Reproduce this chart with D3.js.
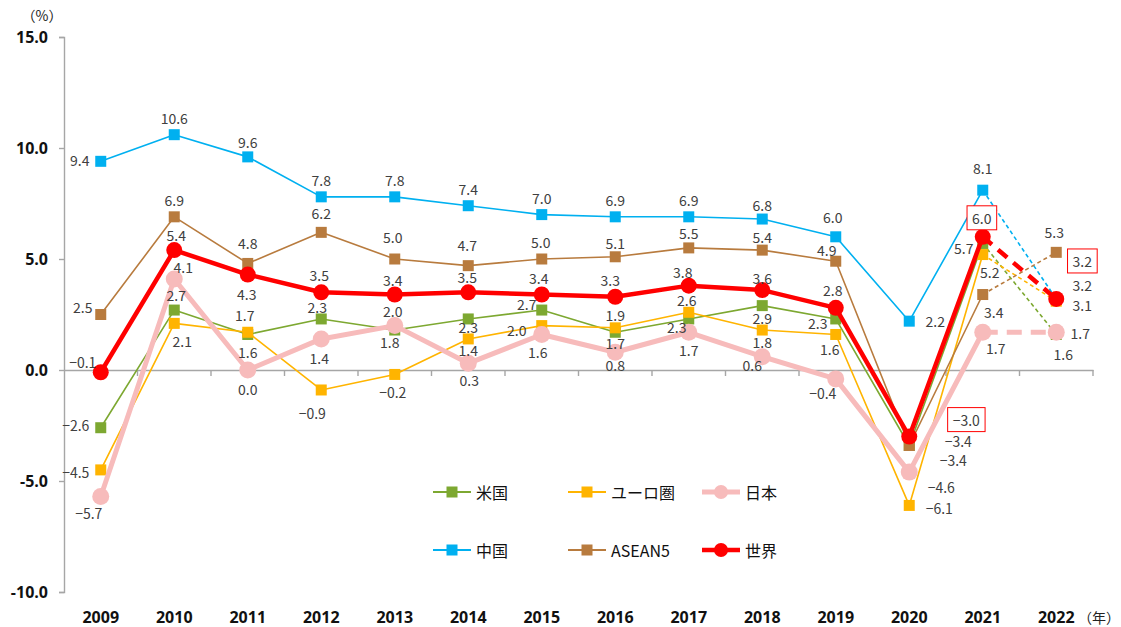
<!DOCTYPE html>
<html><head><meta charset="utf-8">
<script src="https://cdn.jsdelivr.net/npm/d3@7"></script>
<style>
html,body{margin:0;padding:0;background:#fff;}
svg{display:block;}
text{font-family:"Noto Sans CJK JP","Noto Sans",sans-serif;}
</style></head>
<body><svg id="chart" width="1121" height="627"></svg>
<script>
// ---- data ----
const years = [2009,2010,2011,2012,2013,2014,2015,2016,2017,2018,2019,2020,2021,2022];
const yTicks = [-10,-5,0,5,10,15];
const seriesNames = ["米国","ユーロ圏","日本","中国","ASEAN5","世界"];
const usValues     = [-2.6,2.7,1.6,2.3,1.8,2.3,2.7,1.7,2.3,2.9,2.3,-3.4,5.7,1.6];
const euroValues   = [-4.5,2.1,1.7,-0.9,-0.2,1.4,2.0,1.9,2.6,1.8,1.6,-6.1,5.2,3.1];
const japanValues  = [-5.7,4.1,0.0,1.4,2.0,0.3,1.6,0.8,1.7,0.6,-0.4,-4.6,1.7,1.7];
const chinaValues  = [9.4,10.6,9.6,7.8,7.8,7.4,7.0,6.9,6.9,6.8,6.0,2.2,8.1,3.2];
const aseanValues  = [2.5,6.9,4.8,6.2,5.0,4.7,5.0,5.1,5.5,5.4,4.9,-3.4,3.4,5.3];
const worldValues  = [-0.1,5.4,4.3,3.5,3.4,3.5,3.4,3.3,3.8,3.6,2.8,-3.0,6.0,3.2];
const forecastYears = [2021,2022]; // dashed segment
const boxedWorldYears = [2020,2021,2022];

// label offsets (layout, separate from data)
const usLabelOff    = [[-25,-3],[2,-15],[0,18],[-4,-12],[-5,12],[0,8],[-15,-6],[0,11],[-12,8],[0,12],[-18,4],[44,15],[-19,5],[7,20]];
const euroLabelOff  = [[-25,2],[8,18],[-3,-17],[-9,23],[-2,18],[0,11],[-25,4],[0,-13],[-2,-12],[0,12],[-6,15],[30,3],[7,17],[26,4]];
const japanLabelOff = [[-12,16],[9,-12],[0,19],[-2,19],[-2,-15],[1,17],[-4,18],[0,13],[0,18],[-10,8],[-13,14],[32,15],[13,16],[24,1]];
const chinaLabelOff = [[-21,-1],[0,-17],[0,-15],[0,-17],[0,-17],[0,-17],[0,-17],[0,-17],[0,-17],[0,-14],[-3,-20],[26,0],[0,-22],[26,-14]];
const aseanLabelOff = [[-18,-8],[0,-17],[0,-20],[0,-19],[-2,-22],[-1,-21],[-1,-17],[0,-14],[0,-15],[0,-13],[-9,-11],[49,-4],[11,17],[-2,-20]];
const worldLabelOff = [[-18,-10],[2,-15],[-1,19],[-2,-17],[-2,-15],[-1,-15],[-3,-17],[-5,-17],[-6,-14],[0,-12],[-3,-18],[57,-17],[-1,-19],[26,-38]];

const series = [
  {name:seriesNames[0], values:usValues,    color:"#7DA831", width:1.6, marker:"square", size:11, dash:"4,3",  off:usLabelOff},
  {name:seriesNames[1], values:euroValues,  color:"#FFB400", width:1.6, marker:"square", size:11, dash:"4,3",  off:euroLabelOff},
  {name:seriesNames[2], values:japanValues, color:"#F7BBBB", width:5,   marker:"circle", size:8.5, dash:"15,9", off:japanLabelOff},
  {name:seriesNames[3], values:chinaValues, color:"#00B0F0", width:1.6, marker:"square", size:11, dash:"4,3",  off:chinaLabelOff},
  {name:seriesNames[4], values:aseanValues, color:"#B87B3E", width:1.6, marker:"square", size:11, dash:"4,3",  off:aseanLabelOff},
  {name:seriesNames[5], values:worldValues, color:"#FF0000", width:4.5, marker:"circle", size:8,  dash:"12,8", off:worldLabelOff, boxed:true}
];

// ---- layout ----
const svg = d3.select("#chart");
const x = d3.scaleBand().domain(years).range([64,1093]).padding(0);
const cx = d => x(d) + x.bandwidth()/2;
const y = d3.scaleLinear().domain([-10,15]).range([592,37]);
const axisColor = "#A6A6A6";
const fmt = d3.format(".1f");

// y axis
const yAxis = svg.append("g").attr("transform","translate(64,0)")
  .call(d3.axisLeft(y).tickValues(yTicks).tickSize(5).tickPadding(11).tickFormat(d=>d.toFixed(1)));
yAxis.select(".domain").attr("stroke",axisColor).attr("stroke-width",1.4);
yAxis.selectAll(".tick line").attr("stroke",axisColor).attr("stroke-width",1.4);
yAxis.selectAll(".tick text").attr("fill","#111").style("font-size","16px").style("font-weight","bold")
  .style("font-family","'Open Sans','Noto Sans',sans-serif");

// x axis at zero
const xAxis = svg.append("g").attr("transform",`translate(0,${y(0)})`)
  .call(d3.axisBottom(x).tickSize(0).tickFormat(""));
xAxis.select(".domain").attr("stroke",axisColor).attr("stroke-width",1.4);
const boundaries = years.map(d=>x(d)).concat([x(years[years.length-1])+x.bandwidth()]);
svg.append("g").selectAll("line").data(boundaries.slice(1)).join("line")
  .attr("x1",d=>d).attr("x2",d=>d).attr("y1",y(0)).attr("y2",y(0)+6)
  .attr("stroke",axisColor).attr("stroke-width",1.4);

// year labels
svg.append("g").selectAll("text").data(years).join("text")
  .attr("x",d=>cx(d)).attr("y",617).attr("text-anchor","middle").attr("dominant-baseline","central")
  .style("font-size","16px").style("font-weight","bold").style("font-family","'Open Sans','Noto Sans',sans-serif")
  .attr("fill","#111").text(d=>d);
svg.append("text").attr("x",1120).attr("y",617).attr("text-anchor","end").attr("dominant-baseline","central")
  .style("font-size","14px").attr("fill","#222").text("（年）");
svg.append("text").attr("x",42).attr("y",15).attr("text-anchor","middle").attr("dominant-baseline","central")
  .style("font-size","14px").attr("fill","#222").text("（%）");

// series lines & markers
const line = d3.line().x(d=>cx(d.year)).y(d=>y(d.v));
const fStart = years.indexOf(forecastYears[0]);
series.forEach(s=>{
  const pts = s.values.map((v,i)=>({year:years[i], v}));
  const g = svg.append("g");
  g.append("path").attr("d", line(pts.slice(0,fStart+1))).attr("fill","none")
    .attr("stroke",s.color).attr("stroke-width",s.width).attr("stroke-linejoin","round");
  g.append("path").attr("d", line(pts.slice(fStart))).attr("fill","none")
    .attr("stroke",s.color).attr("stroke-width",s.width).attr("stroke-dasharray",s.dash);
  if(s.marker==="square"){
    g.selectAll("rect").data(pts).join("rect")
      .attr("x",d=>cx(d.year)-s.size/2).attr("y",d=>y(d.v)-s.size/2)
      .attr("width",s.size).attr("height",s.size).attr("fill",s.color);
  } else {
    g.selectAll("circle").data(pts).join("circle")
      .attr("cx",d=>cx(d.year)).attr("cy",d=>y(d.v)).attr("r",s.size).attr("fill",s.color);
  }
});

// data labels
const lab = svg.append("g");
series.forEach(s=>{
  s.values.forEach((v,i)=>{
    const lx = cx(years[i]) + s.off[i][0], ly = y(v) + s.off[i][1];
    const t = lab.append("text").attr("x",lx).attr("y",ly).attr("text-anchor","middle")
      .attr("dominant-baseline","central").style("font-size","14px").attr("fill","#404040").text(fmt(v));
    if(s.boxed && boxedWorldYears.includes(years[i])){
      const bb = t.node().getBBox();
      lab.insert("rect", () => t.node())
        .attr("x",bb.x-5).attr("y",ly-12).attr("width",bb.width+10).attr("height",24)
        .attr("fill","#fff").attr("stroke","#FF0000").attr("stroke-width",1);
    }
  });
});

// legend
const legendCols = [433,568,702];
const legendRows = [492,550];
const leg = svg.append("g");
series.forEach((s,i)=>{
  const lx = legendCols[i%3], ly = legendRows[Math.floor(i/3)];
  const g = leg.append("g");
  g.append("line").attr("x1",lx).attr("x2",lx+38).attr("y1",ly).attr("y2",ly)
    .attr("stroke",s.color).attr("stroke-width",s.width===1.6?2:s.width);
  if(s.marker==="square"){
    g.append("rect").attr("x",lx+19-5.5).attr("y",ly-5.5).attr("width",11).attr("height",11).attr("fill",s.color);
  } else {
    g.append("circle").attr("cx",lx+19).attr("cy",ly).attr("r",7).attr("fill",s.color);
  }
  g.append("text").attr("x",lx+43).attr("y",ly).attr("dominant-baseline","central")
    .style("font-size","16px").attr("fill","#111").text(s.name);
});
</script></body></html>
